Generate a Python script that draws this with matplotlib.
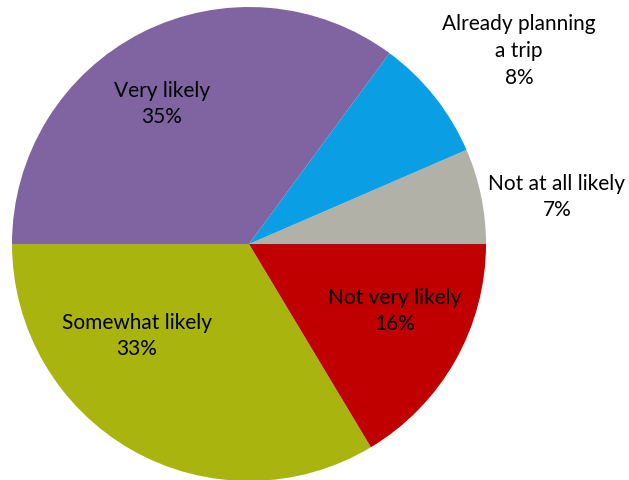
import matplotlib.pyplot as plt

# shares (counterclockwise from 3 o'clock)
categories = ["Not at all likely", "Already planning\na trip", "Very likely",
              "Somewhat likely", "Not very likely"]
shares = [6.5, 8.4, 35.1, 33.6, 16.4]
pct_labels = ["7%", "8%", "35%", "33%", "16%"]
colors = ["#B1B1A7", "#0A9FE5", "#8064A2", "#A9B40F", "#C00000"]

# label centres in pixel coords of the 629x480 image
label_px = [(557, 197), (519, 51), (162, 104), (137, 336), (395, 311)]

W, H = 629, 480
cx, cy, R = 249, 244, 237

fig = plt.figure(figsize=(W / 100, H / 100), dpi=100)
ax = fig.add_axes([0, 0, 1, 1])
ax.pie(shares, colors=colors, startangle=0, counterclock=True,
       radius=R, center=(0, 0), frame=False,
       wedgeprops=dict(linewidth=0))
ax.set_xlim(-cx, W - cx)
ax.set_ylim(-(H - cy), cy)
ax.set_aspect("equal")
ax.axis("off")

for name, pct, (px, py) in zip(categories, pct_labels, label_px):
    ax.text(px - cx, cy - py, f"{name}\n{pct}", ha="center", va="center",
            fontsize=15, family="Lato", color="black", linespacing=1.42)

fig.savefig("out.png", dpi=100)
